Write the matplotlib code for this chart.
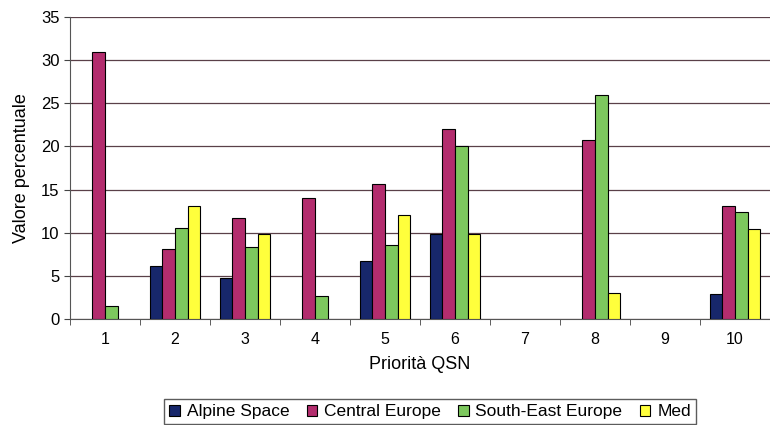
import numpy as np
import matplotlib
matplotlib.use("Agg")
import matplotlib.pyplot as plt

plt.rcParams['font.family'] = ['Liberation Sans', 'DejaVu Sans']

# dati
priorita = [1, 2, 3, 4, 5, 6, 7, 8, 9, 10]
serie = ['Alpine Space', 'Central Europe', 'South-East Europe', 'Med']
alpine = [0, 6.1, 4.7, 0, 6.7, 9.9, 0, 0, 0, 2.9]
central = [31, 8.1, 11.7, 14, 15.7, 22, 0, 20.7, 0, 13.1]
south_east = [1.5, 10.6, 8.4, 2.7, 8.6, 20, 0, 26, 0, 12.4]
med = [0, 13.1, 9.8, 0, 12, 9.9, 0, 3, 0, 10.4]
colori = ['#17276b', '#b32d6e', '#7dc85e', '#ffff3c']

fig = plt.figure(figsize=(7.7, 4.25), dpi=100)
ax = fig.add_axes([70 / 770, 106 / 425, 700 / 770, 302 / 425])

x = np.arange(1, len(priorita) + 1)
w = 0.18
valori = [alpine, central, south_east, med]
for i, (nome, v, c) in enumerate(zip(serie, valori, colori)):
    v = np.array(v, dtype=float)
    mask = v > 0
    ax.bar(x[mask] + (i - 1.5) * w, v[mask], width=w, color=c,
           edgecolor='black', linewidth=0.8, label=nome, zorder=3)

ax.set_ylim(0, 35)
ax.set_xlim(0.5, 10.37)
ax.set_yticks(range(0, 36, 5))
ax.set_xticks(x)
ax.set_xticklabels([str(p) for p in priorita])
ax.set_xticks(np.arange(0.5, 11, 1), minor=True)
ax.tick_params(axis='x', which='major', length=0, pad=9, labelsize=11.5)
ax.tick_params(axis='x', which='minor', length=4, color='#444444')
ax.tick_params(axis='y', length=4, color='#444444', labelsize=12)

ax.yaxis.grid(True, color='#5a4048', linewidth=0.9, zorder=0)
ax.set_axisbelow(True)
for s in ['top', 'right']:
    ax.spines[s].set_visible(False)
ax.spines['left'].set_color('#555555')
ax.spines['bottom'].set_color('#555555')

ax.set_ylabel('Valore percentuale', fontsize=13, labelpad=8)
ax.set_xlabel('Priorità QSN', fontsize=13, labelpad=7)

ax.legend(loc='upper center', bbox_to_anchor=(430 / 770, 1 - 399 / 425),
          bbox_transform=fig.transFigure, borderaxespad=0, ncol=4,
          frameon=True, fancybox=False, edgecolor='#333333', fontsize=12.5,
          handlelength=0.6, handleheight=0.6, handletextpad=0.4,
          columnspacing=1.0, borderpad=0.3)

fig.savefig('out.png', dpi=100)
